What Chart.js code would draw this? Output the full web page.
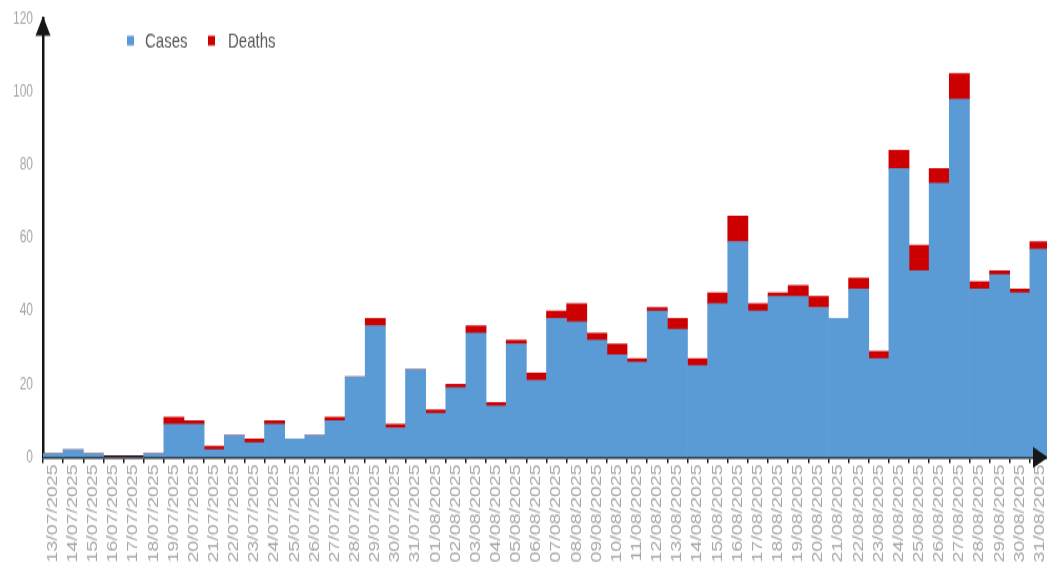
<!DOCTYPE html>
<html>
<head>
<meta charset="utf-8">
<script src="https://cdn.jsdelivr.net/npm/chart.js@4.4.1/dist/chart.umd.min.js"></script>
<style>
  html { overflow: hidden; }
  body { margin: 0; padding: 0; background: #fff; width: 1047px; height: 566px; }
  #wrap { width: 1050px; height: 404px; transform-origin: 0 0; }
  #wrap canvas { display: block; }
</style>
</head>
<body>
<div id="wrap"><canvas id="epiChart" width="1050" height="404"></canvas></div>
<script>
const dates = [
    '13/07/2025', '14/07/2025', '15/07/2025', '16/07/2025', '17/07/2025', '18/07/2025', '19/07/2025',
    '20/07/2025', '21/07/2025', '22/07/2025', '23/07/2025', '24/07/2025', '25/07/2025', '26/07/2025',
    '27/07/2025', '28/07/2025', '29/07/2025', '30/07/2025', '31/07/2025', '01/08/2025', '02/08/2025',
    '03/08/2025', '04/08/2025', '05/08/2025', '06/08/2025', '07/08/2025', '08/08/2025', '09/08/2025',
    '10/08/2025', '11/08/2025', '12/08/2025', '13/08/2025', '14/08/2025', '15/08/2025', '16/08/2025',
    '17/08/2025', '18/08/2025', '19/08/2025', '20/08/2025', '21/08/2025', '22/08/2025', '23/08/2025',
    '24/08/2025', '25/08/2025', '26/08/2025', '27/08/2025', '28/08/2025', '29/08/2025', '30/08/2025',
    '31/08/2025'
];

const cases = [
    1, 2, 1, 0, 0, 1, 9,
    9, 2, 6, 4, 9, 5, 6,
    10, 22, 36, 8, 24, 12, 19,
    34, 14, 31, 21, 38, 37, 32,
    28, 26, 40, 35, 25, 42, 59,
    40, 44, 44, 41, 38, 46, 27,
    79, 51, 75, 98, 46, 50, 45,
    57
];

const deaths = [
    0, 0, 0, 0, 0, 0, 2,
    1, 1, 0, 1, 1, 0, 0,
    1, 0, 2, 1, 0, 1, 1,
    2, 1, 1, 2, 2, 5, 2,
    3, 1, 1, 3, 2, 3, 7,
    2, 1, 3, 3, 0, 3, 2,
    5, 7, 4, 7, 2, 1, 1,
    2
];

const yTicks = [0, 20, 40, 60, 80, 100, 120];

// the canvas is drawn short and stretched vertically to the page height
const STRETCH = 566 / 404;
document.getElementById('wrap').style.transform = 'scaleY(' + STRETCH + ')';

const AXIS_COLOR = '#161616';
const LABEL_COLOR = '#a6a6a6';

// legend sits inside the plot, near the top-left
const legendLayout = { y: 29, box: 7, entries: [{ boxX: 127, textX: 145 }, { boxX: 208, textX: 228 }] };

const floatingLegend = {
    id: 'floatingLegend',
    afterDraw(chart) {
        const ctx = chart.ctx;
        ctx.save();
        ctx.font = '15px "Liberation Sans", Arial, sans-serif';
        ctx.textBaseline = 'middle';
        ctx.textAlign = 'left';
        chart.data.datasets.forEach((ds, i) => {
            const pos = legendLayout.entries[i];
            ctx.fillStyle = ds.backgroundColor;
            ctx.fillRect(pos.boxX, legendLayout.y - legendLayout.box / 2, legendLayout.box, legendLayout.box);
            ctx.fillStyle = '#595959';
            ctx.fillText(ds.label, pos.textX, legendLayout.y + 0.5);
        });
        ctx.restore();
    }
};

// arrow heads at the ends of both axes
const axisArrows = {
    id: 'axisArrows',
    afterDraw(chart) {
        const { left, right, top, bottom } = chart.chartArea;
        const ctx = chart.ctx;
        ctx.save();
        ctx.fillStyle = AXIS_COLOR;
        ctx.beginPath();
        ctx.moveTo(left, top - 2);
        ctx.lineTo(left - 7.5, top + 12);
        ctx.lineTo(left + 7.5, top + 12);
        ctx.closePath();
        ctx.fill();
        ctx.beginPath();
        ctx.moveTo(right - 2, bottom);
        ctx.lineTo(right - 17, bottom - 7.5);
        ctx.lineTo(right - 17, bottom + 7.5);
        ctx.closePath();
        ctx.fill();
        ctx.restore();
    }
};

new Chart(document.getElementById('epiChart'), {
    type: 'bar',
    data: {
        labels: dates,
        datasets: [{
            label: 'Cases',
            data: cases,
            backgroundColor: '#5b9bd5'
        }, {
            label: 'Deaths',
            data: deaths,
            backgroundColor: '#cc0000'
        }]
    },
    options: {
        responsive: false,
        animation: false,
        devicePixelRatio: 1,
        layout: { padding: { top: 13.4, left: 0, right: 0, bottom: 0 } },
        datasets: {
            bar: { barPercentage: 1, categoryPercentage: 1, borderWidth: 0 }
        },
        plugins: {
            legend: { display: false },
            tooltip: { enabled: false }
        },
        scales: {
            x: {
                stacked: true,
                z: 1,
                border: { color: AXIS_COLOR, width: 2.5 },
                grid: {
                    display: true,
                    drawOnChartArea: false,
                    drawTicks: true,
                    tickLength: 4,
                    color: AXIS_COLOR,
                    lineWidth: 1.5,
                    offset: true
                },
                ticks: {
                    autoSkip: false,
                    maxRotation: 90,
                    minRotation: 90,
                    padding: 1,
                    color: LABEL_COLOR,
                    font: { family: '"Liberation Sans", Arial, sans-serif', size: 14 }
                },
                afterFit(scale) {
                    scale.height = 77.6;
                    scale.paddingLeft = 0;
                    scale.paddingRight = 0;
                }
            },
            y: {
                stacked: true,
                min: 0,
                max: 120,
                z: 1,
                border: { color: AXIS_COLOR, width: 2.5 },
                grid: { display: false, drawTicks: false },
                afterBuildTicks(scale) { scale.ticks = yTicks.map(v => ({ value: v })); },
                ticks: {
                    padding: 10,
                    color: LABEL_COLOR,
                    font: { family: '"Liberation Sans", Arial, sans-serif', size: 12 }
                },
                afterFit(scale) {
                    scale.width = 43;
                    scale.paddingTop = 0;
                    scale.paddingBottom = 0;
                }
            }
        }
    },
    plugins: [floatingLegend, axisArrows]
});
</script>
</body>
</html>
